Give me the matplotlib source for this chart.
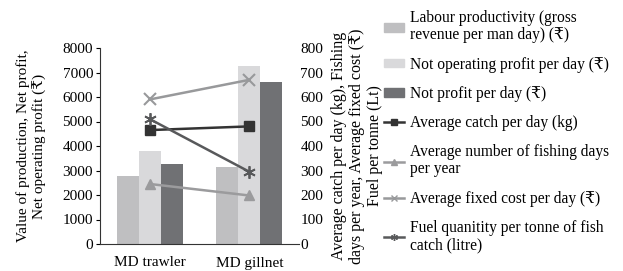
import numpy as np
import matplotlib
matplotlib.use("Agg")
import matplotlib.pyplot as plt
from matplotlib.patches import Patch
from matplotlib.lines import Line2D

plt.rcParams["font.family"] = ["Liberation Serif", "DejaVu Serif"]
plt.rcParams["font.size"] = 11

# Data
categories = ["MD trawler", "MD gillnet"]
labour_productivity = [2780, 3150]
net_operating_profit = [3800, 7280]
net_profit = [3270, 6630]

avg_catch = [465, 480]
fishing_days = [245, 198]
fixed_cost = [590, 670]
fuel_per_tonne = [510, 295]

bar_labels = [
    "Labour productivity (gross\nrevenue per man day) (₹)",
    "Not operating profit per day (₹)",
    "Not profit per day (₹)",
]
line_labels = [
    "Average catch per day (kg)",
    "Average number of fishing days\nper year",
    "Average fixed cost per day (₹)",
    "Fuel quanitity per tonne of fish\ncatch (litre)",
]

bar_colors = ["#bfbfc1", "#d9d9db", "#707174"]
c_catch = "#333333"
c_days = "#9b9b9d"
c_fixed = "#98999b"
c_fuel = "#58595b"

fig = plt.figure(figsize=(6.23, 2.71), dpi=100)
ax = fig.add_axes([100 / 623, 1 - 244 / 271, 199 / 623, 196 / 271])

x = np.arange(len(categories))
w = 0.22
ax.bar(x - w, labour_productivity, w, color=bar_colors[0])
ax.bar(x, net_operating_profit, w, color=bar_colors[1])
ax.bar(x + w, net_profit, w, color=bar_colors[2])

ax.set_xlim(-0.5, 1.5)
ax.set_ylim(0, 8000)
ax.set_yticks(np.arange(0, 8001, 1000))
ax.set_xticks(x)
ax.set_xticklabels(categories)
ax.tick_params(axis="x", length=0, pad=9)
ax.tick_params(axis="y", length=3, pad=2, direction="out")
for s in ["top", "right"]:
    ax.spines[s].set_visible(False)
ax.spines["left"].set_color("#333333")
ax.spines["bottom"].set_color("#333333")

ax.set_ylabel("Value of production, Net profit,\nNet operating profit (₹)",
              ha="center", va="center", linespacing=1.25)
ax.yaxis.set_label_coords(-0.345, 0.5)

ax2 = ax.twinx()
ax2.set_ylim(0, 800)
ax2.set_yticks(np.arange(0, 801, 100))
ax2.tick_params(axis="y", length=0, pad=1)
for s in ["top", "right", "left", "bottom"]:
    ax2.spines[s].set_visible(False)

ax2.plot(x, avg_catch, color=c_catch, lw=1.8, marker="s", ms=6.5,
         mec=c_catch, zorder=3)
ax2.plot(x, fishing_days, color=c_days, lw=1.8, marker="^", ms=7,
         zorder=3)
ax2.plot(x, fixed_cost, color=c_fixed, lw=1.8, marker="x", ms=8,
         mew=1.5, zorder=3)
ax2.plot(x, fuel_per_tonne, color=c_fuel, lw=1.8, marker=(6, 2, 0), ms=9,
         mew=1.3, zorder=3)

ax2.set_ylabel("Average catch per day (kg), Fishing\n"
               "days per year, Average fixed cost (₹)\n"
               "Fuel per tonne (Lt)",
               ha="center", va="center", linespacing=1.15, rotation=90,
               fontsize=11.5)
ax2.yaxis.set_label_coords(1.29, 0.5)

handles = [Patch(color=c) for c in bar_colors]
handles += [
    Line2D([], [], color=c_catch, lw=1.8, marker="s", ms=4),
    Line2D([], [], color=c_days, lw=1.8, marker="^", ms=4),
    Line2D([], [], color=c_fixed, lw=1.8, marker="x", ms=4),
    Line2D([], [], color=c_fuel, lw=1.8, marker=(6, 2, 0), ms=5),
]
leg = fig.legend(handles, bar_labels + line_labels, loc="upper left",
                 bbox_to_anchor=(374 / 623, 1.0), frameon=False,
                 handlelength=1.3, handleheight=0.5, handletextpad=0.35,
                 labelspacing=0.85, borderaxespad=0.25, fontsize=11.2)
for t in leg.get_texts():
    t.set_linespacing(1.1)

fig.savefig("out.png", dpi=100)
